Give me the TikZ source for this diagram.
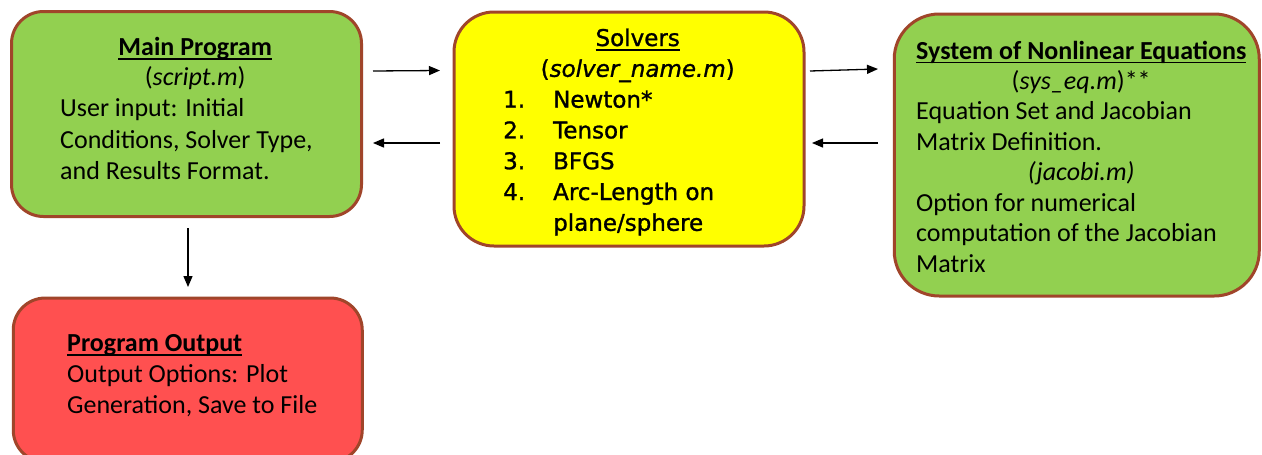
\documentclass[tikz,border=0pt]{standalone}
\usepackage{fontspec}
\setmainfont{Carlito}
\newfontfamily\tahoma[FakeBold=1.2]{DejaVu Sans}
\newcommand{\myul}[1]{\leavevmode\setbox0\hbox{#1}\rlap{#1}\rule[-4.5pt]{\wd0}{1.6pt}}
\usetikzlibrary{arrows.meta}
\definecolor{boxgreen}{HTML}{92D050}
\definecolor{boxyellow}{HTML}{FFFF00}
\definecolor{boxred}{HTML}{FF5050}
\definecolor{boxedge}{HTML}{A0452A}
\begin{document}
\begin{tikzpicture}[x=1pt,y=-1pt,
  box/.style={draw=boxedge, line width=3pt, inner sep=0pt},
  txt/.style={inner sep=0pt, anchor=base west, font=\fontsize{26}{31}\selectfont},
  stxt/.style={inner sep=0pt, anchor=base west, font=\tahoma\fontsize{23}{30.8}\selectfont},
  arr/.style={draw=black, line width=1.3pt, -{Triangle[length=11pt,width=9pt]}}]
\useasboundingbox (0,0) rectangle (1262,455);
\fill[white] (0,0) rectangle (1262,455);

% boxes
\node[box, fill=boxgreen, rounded corners=32pt, minimum width=350pt, minimum height=205pt] (main) at (186.5,114) {};
\node[box, fill=boxyellow, rounded corners=40pt, minimum width=350pt, minimum height=234pt] (solvers) at (629,129) {};
\node[box, fill=boxgreen, rounded corners=45pt, minimum width=365pt, minimum height=282pt] (sys) at (1076.75,155) {};
\node[box, fill=boxred, rounded corners=32pt, minimum width=349pt, minimum height=164pt] (out) at (187.75,380) {};

% texts
\node[txt] (maintext) at (60,55) {\parbox[t]{270pt}{\centering\textbf{\myul{Main Program}}\\(\textit{script.m})\par
  \raggedright User input: Initial\\Conditions, Solver Type,\\and Results Format.}};

\node[stxt] (solvtext) at (503,46) {\parbox[t]{269pt}{\centering\myul{Solvers}\\(\textit{solver\_name.m})\par
  \raggedright
  \makebox[50pt][l]{1.}Newton*\\
  \makebox[50pt][l]{2.}Tensor\\
  \makebox[50pt][l]{3.}BFGS\\
  \makebox[50pt][l]{4.}Arc-Length on\\
  \makebox[50pt][l]{}plane/sphere}};

\node[txt, font=\fontsize{26}{30.5}\selectfont] (systext) at (916,59) {\parbox[t]{330pt}{\centering\textbf{\myul{System of Nonlinear Equations}}\\(\textit{sys\_eq.m})**\par
  \raggedright Equation Set and Jacobian\\Matrix Definition.\par
  \centering\textit{(jacobi.m)}\par
  \raggedright Option for numerical\\computation of the Jacobian\\Matrix}};

\node[txt] (outtext) at (67,351) {\parbox[t]{290pt}{\raggedright\textbf{\myul{Program Output}}\\Output Options: Plot\\Generation, Save to File}};

% connectors
\draw[arr] ([xshift=10pt,yshift=43pt]main.east) -- ([xshift=-12.5pt,yshift=58.5pt]solvers.west);
\draw[arr] ([xshift=-12.5pt,yshift=-14pt]solvers.west) -- ([xshift=10pt,yshift=-29pt]main.east);
\draw[arr] ([xshift=4.5pt,yshift=58pt]solvers.east) -- ([xshift=-14.75pt,yshift=86pt]sys.west);
\draw[arr] ([xshift=-14.75pt,yshift=12pt]sys.west) -- ([xshift=6.5pt,yshift=-14pt]solvers.east);
\draw[arr] ([xshift=1.5pt,yshift=-10pt]main.south) -- ([xshift=0.25pt,yshift=9.5pt]out.north);
\end{tikzpicture}
\end{document}
